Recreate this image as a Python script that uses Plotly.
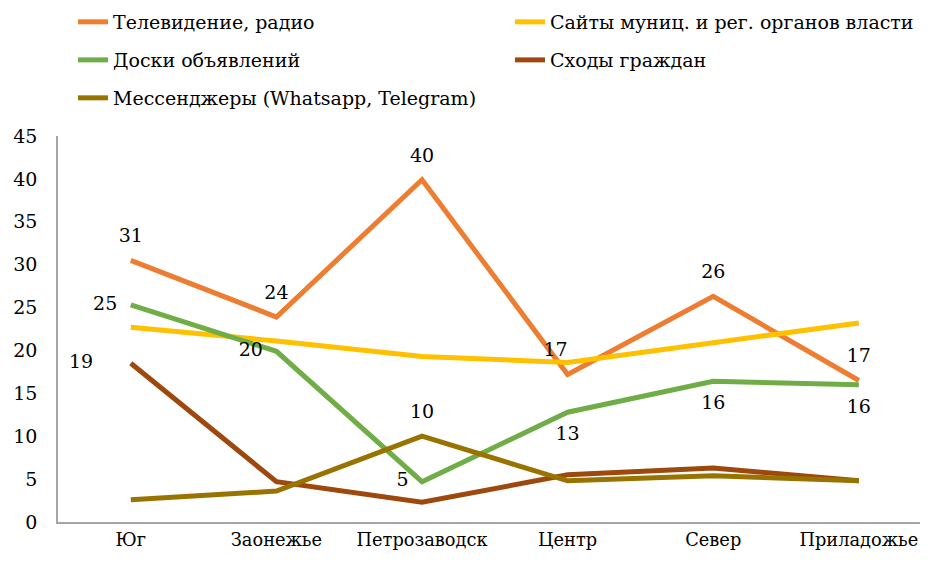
import plotly.graph_objects as go

regions = ["Юг", "Заонежье", "Петрозаводск", "Центр", "Север", "Приладожье"]

tv = [30.5, 23.9, 39.9, 17.2, 26.3, 16.5]
sites = [22.7, 21.1, 19.3, 18.6, 20.9, 23.2]
boards = [25.3, 19.9, 4.7, 12.8, 16.4, 16.0]
meetings = [18.5, 4.7, 2.3, 5.5, 6.3, 4.8]
messengers = [2.6, 3.6, 10.0, 4.8, 5.4, 4.8]

tv_labels = ["31", "24", "40", "17", "26", "17"]
boards_labels = ["25", "20", "5", "13", "16", "16"]
meetings_labels = ["19", "", "", "", "", ""]
messengers_labels = ["", "", "10", "", "", ""]

FONT = "DejaVu Serif"
FS = 19
NB = "\u00a0"

fig = go.Figure()

def add_line(name, y, color, legend, text=None, pos=None):
    fig.add_trace(go.Scatter(
        x=regions, y=y, name=name, legend=legend,
        mode="lines+markers+text" if text else "lines",
        line=dict(color=color, width=5),
        marker=dict(size=20, color="rgba(0,0,0,0)"),
        text=text, textposition=pos,
        textfont=dict(family=FONT, size=FS, color="#000000"),
        hoverinfo="x+y+name",
    ))

# Центр label sits a bit left of its point in the original
tv_text = [t + NB * 4 if i == 3 else t for i, t in enumerate(tv_labels)]
add_line("Телевидение, радио", tv, "#ED7D31", "legend", tv_text, ["top center"] * 6)
add_line("Сайты муниц. и рег. органов власти", sites, "#FFC000", "legend2")
add_line("Доски объявлений", boards, "#70AD47", "legend3", boards_labels,
         ["middle left", "middle left", "middle left", "bottom center", "bottom center", "bottom center"])
add_line("Сходы граждан", meetings, "#9E480E", "legend4",
         [t + NB * 4 if t else "" for t in meetings_labels],
         ["middle left"] * 6)
add_line("Мессенджеры (Whatsapp, Telegram)", messengers, "#997300", "legend5",
         messengers_labels, ["top center"] * 6)

def leg(x, y):
    return dict(x=x, y=y, xref="container", yref="container",
                xanchor="left", yanchor="middle",
                font=dict(family=FONT, size=FS, color="#000000"),
                bgcolor="rgba(0,0,0,0)", itemclick=False, itemdoubleclick=False)

# page body has an 8px margin, so keep the figure inside the window
fig.update_layout(
    width=912, height=547,
    margin=dict(l=50, r=0, t=128, b=33, autoexpand=False),
    plot_bgcolor="white", paper_bgcolor="white",
    font=dict(family=FONT, size=FS, color="#000000"),
    showlegend=True,
    legend=leg(0.0713, 0.9744),
    legend2=leg(0.5504, 0.9744),
    legend3=leg(0.0713, 0.9049),
    legend4=leg(0.5504, 0.9049),
    legend5=leg(0.0713, 0.8355),
    xaxis=dict(range=[-0.5, 5.42], showline=True, linecolor="#A6A6A6", linewidth=1.5,
               showgrid=False, ticks="", ticklabelstandoff=1,
               tickfont=dict(family=FONT, size=17.8)),
    yaxis=dict(range=[0, 45], dtick=5, showline=True, linecolor="#A6A6A6", linewidth=1.5,
               showgrid=False, zeroline=False, ticks="", ticklabelstandoff=15,
               tickfont=dict(family=FONT, size=FS)),
)

fig.write_html("out.html")
